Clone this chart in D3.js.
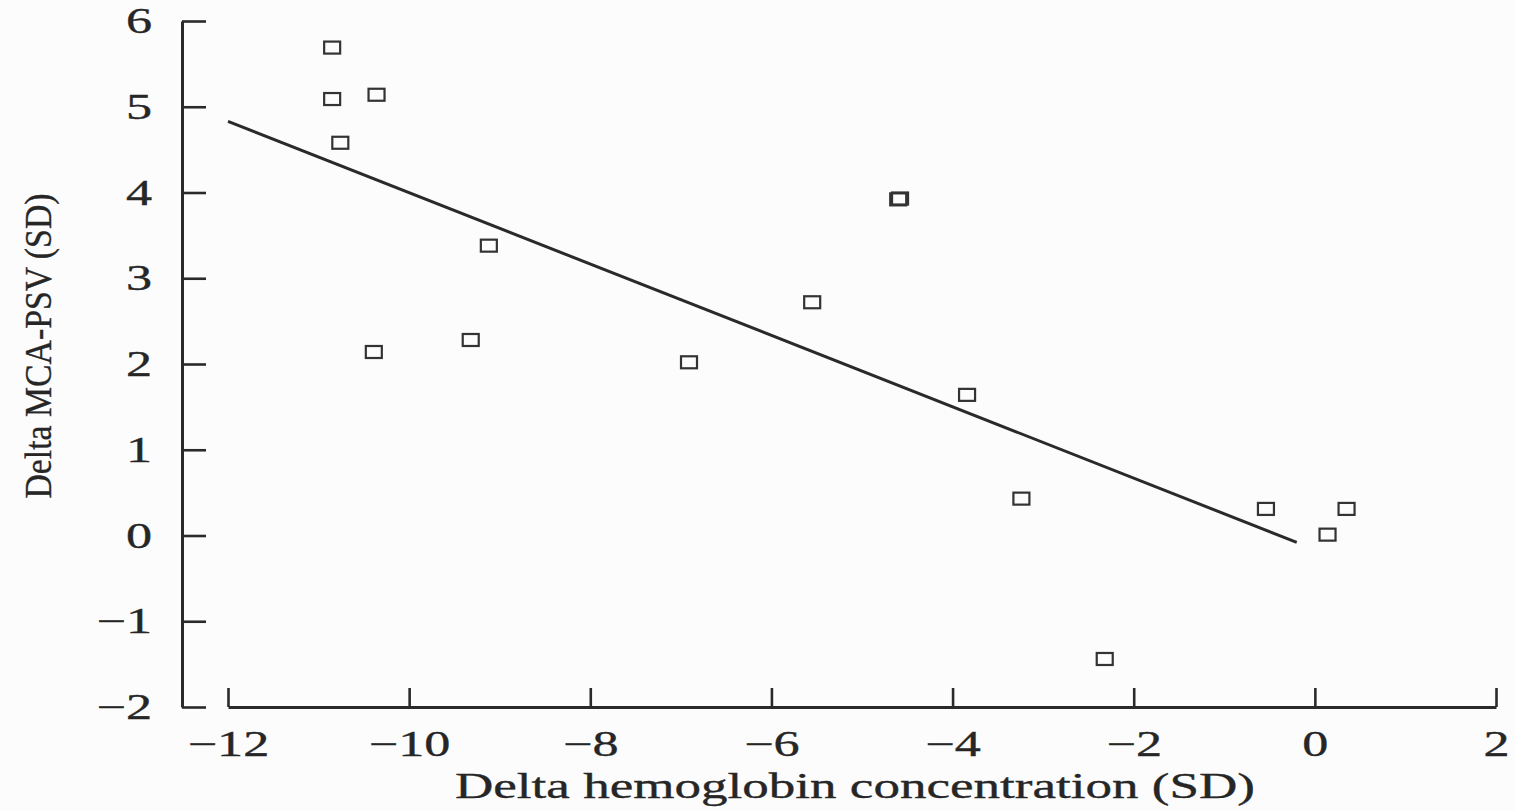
<!DOCTYPE html>
<html>
<head>
<meta charset="utf-8">
<script src="https://cdn.jsdelivr.net/npm/d3@7"></script>
<style>
  body { margin: 0; background: #fcfcfc; }
  svg { display: block; }
  text { font-family: "Liberation Serif", "DejaVu Serif", serif; fill: #262626; stroke: #262626; stroke-width: 0.35; }
</style>
</head>
<body>
<svg width="1515" height="811"></svg>
<script>
// hemoglobin change (SD) vs MCA-PSV change (SD), one entry per fetus
const deltaHb = [-10.85, -10.85, -10.36, -10.76, -10.39, -9.12, -9.32, -6.91,
                 -5.55, -4.60, -4.58, -3.84, -3.24, -2.32, -0.54, 0.14, 0.35];
const deltaPsv = [5.69, 5.09, 5.14, 4.58, 2.14, 3.38, 2.28, 2.02,
                  2.72, 3.92, 3.93, 1.64, 0.43, -1.44, 0.31, 0.01, 0.31];
// regression line end points
const fitX = [-12, -0.2];
const fitY = [4.83, -0.08];
const xTicks = [-12, -10, -8, -6, -4, -2, 0, 2];
const yTicks = [-2, -1, 0, 1, 2, 3, 4, 5, 6];
const xTitle = "Delta hemoglobin concentration (SD)";
const yTitle = "Delta MCA-PSV (SD)";

const svg = d3.select("svg");
const ink = "#2a2a2a";
const stretch = 1.45; // the scan is wide, glyphs look stretched sideways
const minus = v => (v < 0 ? "\u2212" + Math.abs(v) : String(v));

const x = d3.scaleLinear().domain([-12, 2]).range([228, 1496]);
const y = d3.scaleLinear().domain([-2, 6]).range([707, 21]);

//======== axes ========
const xAxis = d3.axisBottom(x).tickValues(xTicks).tickFormat(minus)
  .tickSize(-19).tickSizeOuter(0).tickPadding(23);
const gx = svg.append("g").attr("transform", `translate(0,${y(-2)})`).call(xAxis);

const yAxis = d3.axisLeft(y).tickValues(yTicks).tickFormat(minus)
  .tickSize(-24).tickSizeOuter(0).tickPadding(0);
const gy = svg.append("g").attr("transform", "translate(182,0)").call(yAxis);

[gx, gy].forEach(g => {
  g.select(".domain").attr("stroke", ink).attr("stroke-width", 3);
  g.selectAll(".tick line").attr("stroke", ink).attr("stroke-width", 2.6);
  g.selectAll(".tick text")
    .attr("font-family", "Liberation Serif, serif")
    .attr("font-size", 36)
    .attr("fill", "#262626");
});
gx.selectAll(".tick text").attr("transform", `scale(${stretch},1)`);
gy.selectAll(".tick text")
  .attr("x", -30 / stretch)
  .attr("transform", `scale(${stretch},1)`);

//======== titles ========
svg.append("text")
  .attr("x", 855).attr("y", 798)
  .attr("text-anchor", "middle")
  .attr("font-size", 36)
  .attr("textLength", 800).attr("lengthAdjust", "spacingAndGlyphs")
  .text(xTitle);

svg.append("text")
  .attr("transform", "translate(51,346) rotate(-90)")
  .attr("text-anchor", "middle")
  .attr("font-size", 37)
  .attr("textLength", 305).attr("lengthAdjust", "spacingAndGlyphs")
  .text(yTitle);

//======== fit line ========
svg.append("line")
  .attr("x1", x(fitX[0])).attr("y1", y(fitY[0]))
  .attr("x2", x(fitX[1])).attr("y2", y(fitY[1]))
  .attr("stroke", ink).attr("stroke-width", 3);

//======== points ========
const mw = 16, mh = 12;
svg.append("g").selectAll("rect")
  .data(deltaHb.map((d, i) => [d, deltaPsv[i]]))
  .enter().append("rect")
  .attr("x", d => x(d[0]) - mw / 2)
  .attr("y", d => y(d[1]) - mh / 2)
  .attr("width", mw).attr("height", mh)
  .attr("fill", "none")
  .attr("stroke", "#333")
  .attr("stroke-width", 2.2);
</script>
</body>
</html>
